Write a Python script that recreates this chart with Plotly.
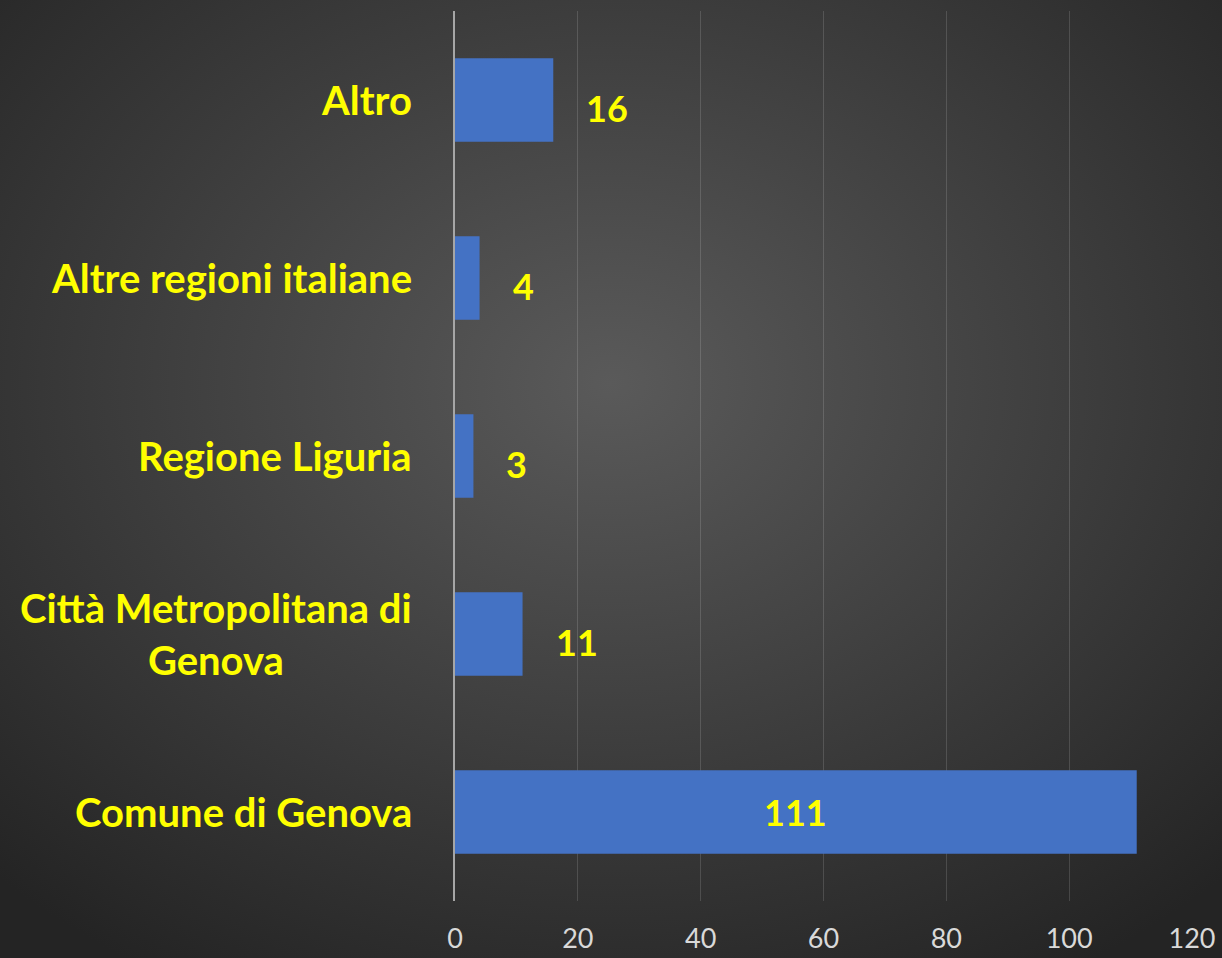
import base64
import plotly.graph_objects as go

categories = ["Comune di Genova", "Città Metropolitana di<br>Genova", "Regione Liguria",
              "Altre regioni italiane", "Altro"]
values = [111, 11, 3, 4, 16]
x_ticks = [0, 20, 40, 60, 80, 100, 120]

YELLOW = "#FFFF00"
FONT = "Lato"
W, H = 1222, 958
L, R, T, B = 455, 30, 11, 57
pw, ph = W - L - R, H - T - B

# radial dark background, lighter towards the centre
svg = f"""<svg xmlns='http://www.w3.org/2000/svg' width='{W}' height='{H}' preserveAspectRatio='none'>
<defs><radialGradient id='g' cx='50%' cy='40%' r='72%'>
<stop offset='0%' stop-color='#5a5a5a'/><stop offset='100%' stop-color='#242424'/>
</radialGradient></defs><rect width='{W}' height='{H}' fill='url(#g)'/></svg>"""
bg_uri = "data:image/svg+xml;base64," + base64.b64encode(svg.encode()).decode()

fig = go.Figure()
fig.add_trace(go.Bar(
    x=values,
    y=categories,
    orientation="h",
    marker=dict(color="#4472C4", line=dict(width=0)),
    hoverinfo="x+y",
))

# value labels: inside for the big bar, to the right for the others
for v, c in zip(values, categories):
    if v > 50:
        fig.add_annotation(x=v / 2, y=c, text=f"<b>{v}</b>", showarrow=False,
                           font=dict(family=FONT, size=36, color=YELLOW))
    else:
        fig.add_annotation(x=v, y=c, text=f"<b>{v}</b>", showarrow=False,
                           xanchor="left", xshift=31, yshift=-8,
                           font=dict(family=FONT, size=36, color=YELLOW))

# category labels as annotations so the two-line one stays centred
for c in categories:
    fig.add_annotation(x=0, xref="paper", y=c, text=f"<b>{c}</b>", showarrow=False,
                       xanchor="right", xshift=-41, align="center",
                       font=dict(family=FONT, size=40, color=YELLOW))

fig.update_xaxes(
    range=[0, 120],
    tickvals=x_ticks,
    showgrid=True,
    gridcolor="rgba(255,255,255,0.14)",
    gridwidth=1,
    zeroline=False,
    showline=False,
    ticks="",
    tickfont=dict(family=FONT, size=27, color="#d9d9d9"),
    ticklabelstandoff=19,
    automargin=False,
)
fig.update_yaxes(
    showticklabels=False,
    showgrid=False,
    showline=True,
    linecolor="#a6a6a6",
    linewidth=2,
    ticks="",
    automargin=False,
)

fig.update_layout(
    width=W,
    height=H,
    margin=dict(l=L, r=R, t=T, b=B),
    paper_bgcolor="#333333",
    plot_bgcolor="rgba(0,0,0,0)",
    bargap=0.53,
    showlegend=False,
    images=[dict(source=bg_uri, xref="paper", yref="paper",
                 x=-L / pw, y=1 + T / ph, sizex=W / pw, sizey=H / ph,
                 xanchor="left", yanchor="top",
                 sizing="stretch", layer="below")],
)

fig.write_html(
    "out.html",
    config={"displayModeBar": False},
    post_script="document.body.style.margin='0';"
                "document.body.style.overflow='hidden';"
                "document.documentElement.style.overflow='hidden';",
)
